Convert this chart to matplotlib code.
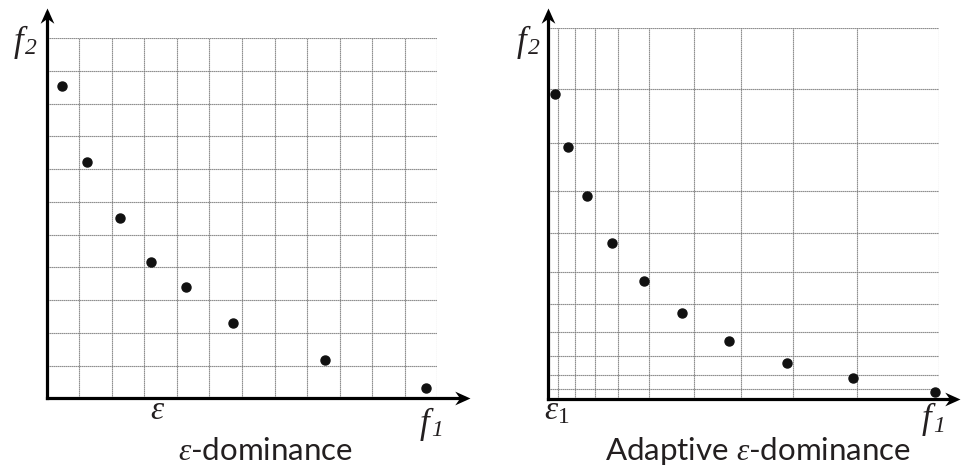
import matplotlib
matplotlib.use("Agg")
import matplotlib.pyplot as plt
from matplotlib.path import Path

plt.rcParams["mathtext.fontset"] = "custom"
plt.rcParams["mathtext.rm"] = "Liberation Serif"
plt.rcParams["mathtext.it"] = "Liberation Serif:italic"

# epsilon-dominance: uniform grid (cell units)
left_grid_x = list(range(0, 13))
left_grid_y = list(range(0, 12))
left_pts_x = [0.46, 1.23, 2.25, 3.21, 4.27, 5.71, 8.55, 11.64]
left_pts_y = [9.54, 7.22, 5.50, 4.18, 3.39, 2.31, 1.16, 0.31]

# adaptive epsilon-dominance: non-uniform grid (percent of extent)
right_grid_x = [0, 2.6, 6.8, 11.9, 17.9, 25.7, 37.3, 49.3, 62.7, 78.9, 100]
right_grid_y = [0, 2.8, 6.5, 11.7, 18.0, 25.6, 34.3, 44.9, 56.2, 69.0, 83.7, 100]
right_pts_x = [1.8, 5.1, 9.8, 16.2, 24.4, 34.3, 46.3, 61.0, 77.9, 98.9]
right_pts_y = [82.4, 67.9, 54.8, 42.1, 31.8, 23.2, 15.7, 9.7, 5.7, 2.0]

W, H = 961, 469
fig = plt.figure(figsize=(W / 100, H / 100), dpi=100)


def px_axes(x0, y0, x1, y1):
    return fig.add_axes([x0 / W, 1 - y1 / H, (x1 - x0) / W, (y1 - y0) / H])


grid_kw = dict(color="#7a7a7a", lw=0.8, linestyle=(0, (1.2, 0.6)), zorder=1)

# stealth-style arrowheads, tip at the origin of the marker path
_codes = [Path.MOVETO, Path.LINETO, Path.LINETO, Path.LINETO, Path.CLOSEPOLY]
head_right = Path([(0, 0), (-1, 0.45), (-0.68, 0), (-1, -0.45), (0, 0)], _codes)
head_up = Path([(0, 0), (0.45, -1), (0, -0.68), (-0.45, -1), (0, 0)], _codes)


def draw_panel(ax, gx, gy, px, py, xmax, ymax, xtip, ytip):
    ax.set_xlim(0, xmax)
    ax.set_ylim(0, ymax)
    ax.axis("off")
    ax.vlines(gx[1:], 0, ymax, **grid_kw)
    ax.hlines(gy[1:], 0, xmax, **grid_kw)
    shaft = dict(color="black", lw=2.3, solid_capstyle="projecting",
                 clip_on=False, zorder=3)
    ax.plot([0, xtip * 0.985], [0, 0], **shaft)
    ax.plot([0, 0], [0, ytip * 0.985], **shaft)
    ax.plot([xtip], [0], marker=head_right, ms=22, color="black",
            mew=0, clip_on=False, zorder=3)
    ax.plot([0], [ytip], marker=head_up, ms=22, color="black",
            mew=0, clip_on=False, zorder=3)
    ax.plot(px, py, "o", color="#111111", ms=6.5, zorder=4, clip_on=False)


axL = px_axes(46.7, 38.3, 437.3, 398.3)
draw_panel(axL, left_grid_x, left_grid_y, left_pts_x, left_pts_y,
           12, 11, 13.0, 11.94)

axR = px_axes(548.3, 28.3, 939.3, 399.0)
draw_panel(axR, right_grid_x, right_grid_y, right_pts_x, right_pts_y,
           100, 100, 105.4, 105.5)

ink = "#231f20"


def ftext(x, y, s, **kw):
    fig.text(x / W, 1 - y / H, s, **kw)


serif_it = dict(family="Liberation Serif", style="italic", color=ink)


def fsub(x, y, sub):
    # italic f with an italic numeric subscript
    ftext(x, y, "f", fontsize=25, ha="center", va="center", **serif_it)
    ftext(x + 13, y + 7, sub, fontsize=17, ha="center", va="center", **serif_it)


fsub(18, 42, "2")
fsub(424, 424, "1")
fsub(521, 42, "2")
fsub(926, 419, "1")

ftext(158, 409, r"$\varepsilon$", fontsize=24, ha="center", va="center", color=ink)
ftext(557, 410, r"$\varepsilon_1$", fontsize=24, ha="center", va="center", color=ink)

title_kw = dict(fontsize=22.5, color=ink, ha="center", va="center", family="Lato")
ftext(265, 451, r"$\varepsilon$-dominance", **title_kw)
ftext(758, 451, r"Adaptive $\varepsilon$-dominance", **title_kw)

fig.savefig("out.png", dpi=100)
